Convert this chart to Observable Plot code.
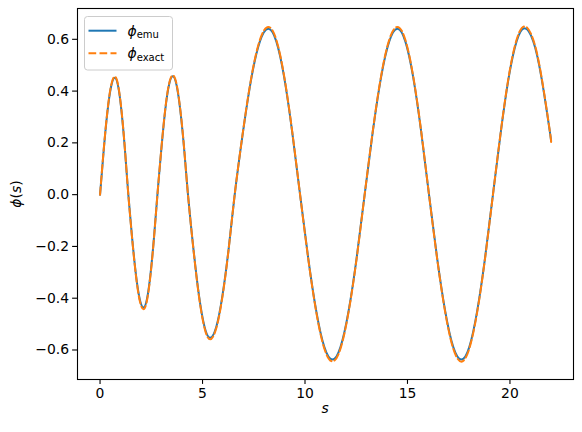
<!DOCTYPE html>
<html>
<head>
<meta charset="utf-8">
<script src="https://cdn.jsdelivr.net/npm/d3@7"></script>
<script src="https://cdn.jsdelivr.net/npm/@observablehq/plot@0.6"></script>
<style>
  html, body { margin: 0; padding: 0; background: white; }
  svg { display: block; }
</style>
</head>
<body>
<div id="chart"></div>
<script>
// Data
const sValues = [0, 0.18, 0.36, 0.54, 0.72, 0.885, 1.05, 1.215, 1.38, 1.565, 1.75, 1.935, 2.12, 2.29, 2.46, 2.63, 2.80, 2.99, 3.175, 3.36, 3.55, 3.735, 3.92, 4.105, 4.29, 4.56, 4.83, 5.10, 5.37, 5.67, 5.97, 6.27, 6.57, 6.98, 7.39, 7.80, 8.21, 8.60, 8.985, 9.37, 9.76, 10.155, 10.55, 10.945, 11.34, 11.73, 12.125, 12.52, 12.91, 13.31, 13.71, 14.11, 14.51, 14.895, 15.28, 15.665, 16.05, 16.445, 16.84, 17.235, 17.63, 18.015, 18.40, 18.785, 19.17, 19.56, 19.945, 20.33, 20.72, 21.13, 21.53, 21.94, 22.0];
const phiEmu = [0, 0.173, 0.320, 0.418, 0.452, 0.418, 0.320, 0.173, 0, -0.167, -0.308, -0.403, -0.436, -0.403, -0.308, -0.167, 0, 0.175, 0.323, 0.422, 0.457, 0.422, 0.323, 0.175, 0, -0.212, -0.391, -0.511, -0.553, -0.511, -0.391, -0.212, 0, 0.245, 0.453, 0.592, 0.641, 0.592, 0.453, 0.245, 0, -0.244, -0.450, -0.589, -0.637, -0.589, -0.450, -0.244, 0, 0.245, 0.453, 0.592, 0.641, 0.592, 0.453, 0.245, 0, -0.244, -0.450, -0.589, -0.637, -0.589, -0.450, -0.244, 0, 0.246, 0.455, 0.594, 0.643, 0.594, 0.455, 0.246, 0.21];
const phiExact = [0, 0.175, 0.323, 0.422, 0.456, 0.422, 0.323, 0.175, 0, -0.169, -0.312, -0.409, -0.443, -0.409, -0.312, -0.169, 0, 0.177, 0.326, 0.426, 0.461, 0.426, 0.326, 0.177, 0, -0.214, -0.395, -0.516, -0.559, -0.516, -0.395, -0.214, 0, 0.247, 0.457, 0.598, 0.648, 0.598, 0.457, 0.247, 0, -0.246, -0.454, -0.595, -0.644, -0.595, -0.454, -0.246, 0, 0.247, 0.457, 0.598, 0.648, 0.598, 0.457, 0.247, 0, -0.246, -0.454, -0.595, -0.645, -0.595, -0.454, -0.246, 0, 0.248, 0.459, 0.600, 0.650, 0.600, 0.459, 0.248, 0.203];
const xTicks = [0, 5, 10, 15, 20];
const yTicks = [-0.6, -0.4, -0.2, 0.0, 0.2, 0.4, 0.6];
const seriesNames = ["emu", "exact"];
const seriesColors = ["#1f77b4", "#ff7f0e"];

const emu = sValues.map((s, i) => ({s, phi: phiEmu[i]}));
const exact = sValues.map((s, i) => ({s, phi: phiExact[i]}));

const FONT = "'DejaVu Sans', sans-serif";
const chart = Plot.plot({
  width: 582,
  height: 432,
  marginLeft: 77,
  marginRight: 9,
  marginTop: 8,
  marginBottom: 53,
  style: {fontFamily: FONT, fontSize: "13.9px", color: "black", background: "white"},
  x: {domain: [-1.1, 23.1]},
  y: {domain: [-0.714, 0.719]},
  marks: [
    Plot.line(emu, {x: "s", y: "phi", stroke: seriesColors[0], strokeWidth: 2, curve: "natural"}),
    Plot.line(exact, {x: "s", y: "phi", stroke: seriesColors[1], strokeWidth: 2, strokeDasharray: "7.7,3.3", curve: "natural"}),
    Plot.frame({stroke: "black", strokeWidth: 1.1}),
    Plot.axisX({ticks: xTicks, tickSize: 4.9, tickPadding: 3.5, label: null, tickFormat: d => String(d), strokeWidth: 1.1}),
    Plot.axisY({ticks: yTicks, tickSize: 4.9, tickPadding: 3.5, label: null, tickFormat: d => d.toFixed(1).replace("-", "\u2212"), strokeWidth: 1.1})
  ]
});
document.getElementById("chart").appendChild(chart);

const svg = d3.select(chart);
// axis labels
svg.append("text")
  .attr("x", (77 + 573) / 2).attr("y", 413)
  .attr("text-anchor", "middle")
  .style("font-family", FONT).style("font-size", "13.9px").style("font-style", "italic")
  .attr("fill", "black")
  .text("s");
const yl = svg.append("text")
  .attr("transform", "translate(21,194) rotate(-90)")
  .attr("text-anchor", "middle")
  .style("font-family", FONT).style("font-size", "13.9px")
  .attr("fill", "black");
yl.append("tspan").style("font-style", "italic").text("\u03d5");
yl.append("tspan").text("(");
yl.append("tspan").style("font-style", "italic").text("s");
yl.append("tspan").text(")");

// legend
const lg = svg.append("g");
lg.append("rect")
  .attr("x", 84.5).attr("y", 16.5).attr("width", 88).attr("height", 53.5)
  .attr("rx", 3).attr("fill", "white").attr("fill-opacity", 0.8)
  .attr("stroke", "#cccccc").attr("stroke-width", 1);
seriesNames.forEach((name, i) => {
  const y = 30.7 + i * 22.6;
  lg.append("line")
    .attr("x1", 88.5).attr("x2", 116.5).attr("y1", y).attr("y2", y)
    .attr("stroke", seriesColors[i]).attr("stroke-width", 2)
    .attr("stroke-dasharray", i === 1 ? "7.7,3.3" : null);
  const t = lg.append("text")
    .attr("x", 127.5).attr("y", y + 5)
    .attr("text-anchor", "start")
    .style("font-family", FONT).style("font-size", "13.9px")
    .attr("fill", "black");
  t.append("tspan").style("font-style", "italic").text("\u03d5");
  t.append("tspan").attr("dy", 2.5).style("font-size", "10px").text(name);
});
</script>
</body>
</html>
